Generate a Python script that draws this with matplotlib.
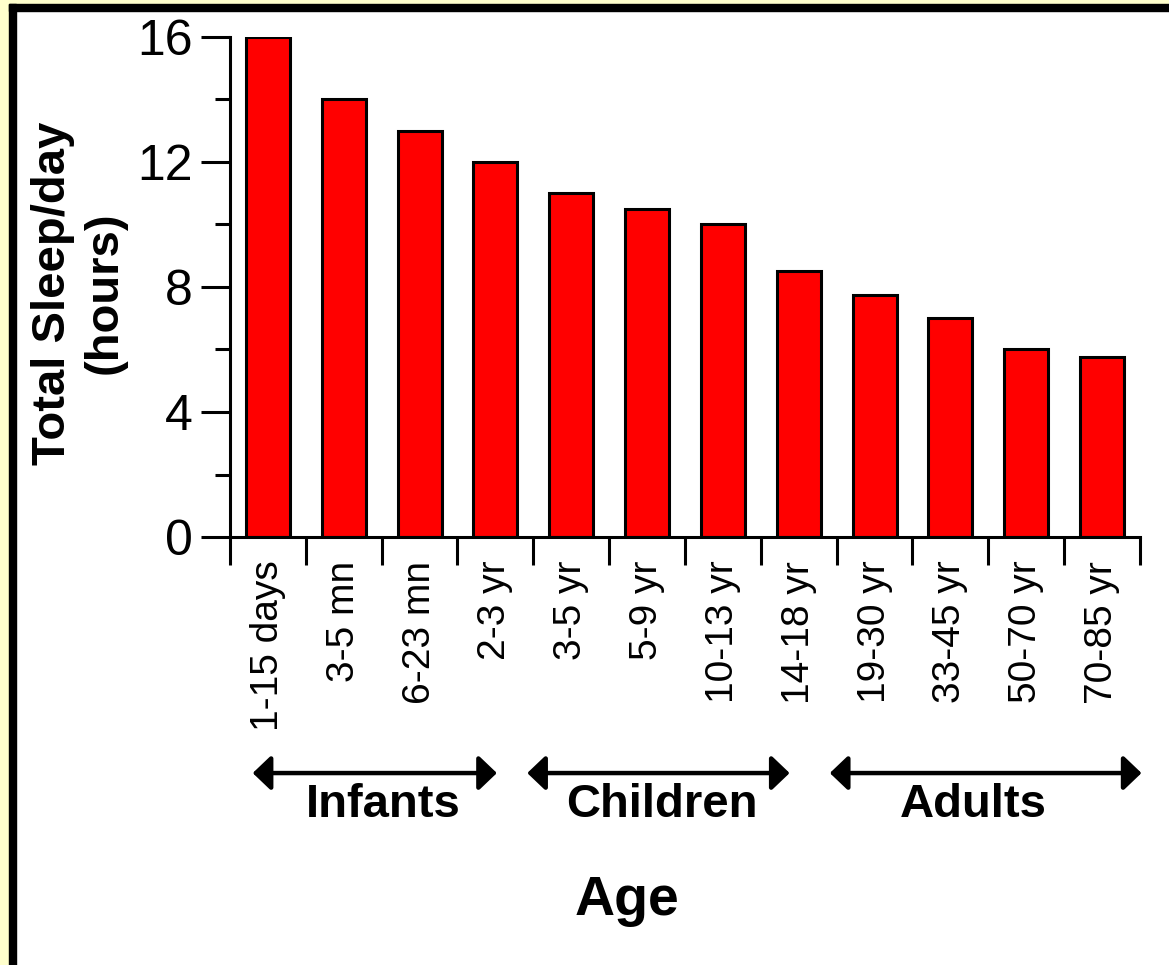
import matplotlib
matplotlib.use("Agg")
import matplotlib.pyplot as plt
from matplotlib.patches import Rectangle
import numpy as np

plt.rcParams["font.family"] = ["Liberation Sans", "DejaVu Sans"]

# data
age_groups = ["1-15 days", "3-5 mn", "6-23 mn", "2-3 yr", "3-5 yr", "5-9 yr",
              "10-13 yr", "14-18 yr", "19-30 yr", "33-45 yr", "50-70 yr", "70-85 yr"]
sleep_hours = [16.0, 14.0, 13.0, 12.0, 11.0, 10.5, 10.0, 8.5, 7.75, 7.0, 6.0, 5.75]
y_major = [0, 4, 8, 12, 16]
y_minor = [2, 6, 10, 14]
life_stages = ["Infants", "Children", "Adults"]
stage_spans = [(-0.2, 3.02), (3.42, 6.88), (7.41, 11.52)]
stage_label_x = [1.52, 5.2, 9.3]

fig = plt.figure(figsize=(11.69, 9.65), dpi=100, facecolor="white")
ax = fig.add_axes([0.1967, 0.4435, 0.7785, 0.5182])

x = np.arange(len(age_groups))
ax.bar(x, sleep_hours, width=0.58, color="#ff0000", edgecolor="black", linewidth=2.2)

ax.set_xlim(-0.5, len(age_groups) - 0.5)
ax.set_ylim(0, 16)
for side in ["top", "right"]:
    ax.spines[side].set_visible(False)
for side in ["left", "bottom"]:
    ax.spines[side].set_linewidth(2.2)

ax.set_yticks(y_major)
ax.set_yticks(y_minor, minor=True)
ax.tick_params(axis="y", which="major", length=21, width=2.2, pad=6, labelsize=36)
ax.tick_params(axis="y", which="minor", length=10.5, width=2.2)

# category labels with no tick; boundary ticks as minor
ax.set_xticks(x)
ax.set_xticklabels(age_groups, rotation=90, fontsize=28, va="top", ha="center")
ax.set_xticks(np.arange(len(age_groups) + 1) - 0.5, minor=True)
ax.tick_params(axis="x", which="major", length=0, pad=17)
ax.tick_params(axis="x", which="minor", length=20, width=2.2)

ax.set_ylabel("Total Sleep/day\n(hours)", fontsize=34, fontweight="bold",
              va="center", linespacing=1.2)
ax.yaxis.set_label_coords(-0.166, 0.488)

trans = ax.get_xaxis_transform()
for name, (x0, x1), tx in zip(life_stages, stage_spans, stage_label_x):
    ax.annotate("", xy=(x1, -0.472), xytext=(x0, -0.472), xycoords=trans, textcoords=trans,
                arrowprops=dict(arrowstyle="<|-|>,head_length=11,head_width=10.5",
                                mutation_scale=1, lw=3.2, color="black",
                                shrinkA=0, shrinkB=0),
                annotation_clip=False)
    ax.text(tx, -0.536, name, transform=trans, ha="center", va="center",
            fontsize=34, fontweight="bold")

ax.text(4.74, -0.728, "Age", transform=trans, ha="center", va="center",
        fontsize=40, fontweight="bold")

# page frame: yellow strip and black border on top/left
W, H = 1169.0, 965.0
fig.add_artist(Rectangle((0, 0), 9 / W, 1, transform=fig.transFigure, color="#ffffcc", zorder=0))
fig.add_artist(Rectangle((0, 1 - 4 / H), 1, 4 / H, transform=fig.transFigure, color="#ffffcc", zorder=0))
fig.add_artist(Rectangle((9 / W, 0), 7 / W, 1 - 4 / H, transform=fig.transFigure, color="black", zorder=0))
fig.add_artist(Rectangle((9 / W, 1 - 11 / H), 1, 7 / H, transform=fig.transFigure, color="black", zorder=0))

fig.savefig("out.png", dpi=100, facecolor="white")
